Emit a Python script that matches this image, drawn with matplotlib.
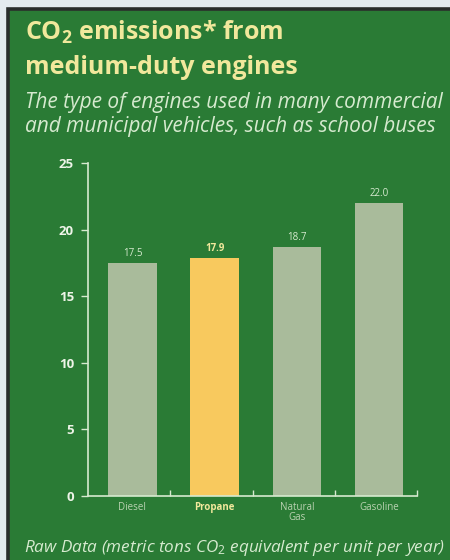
import matplotlib.pyplot as plt
from matplotlib.patches import Rectangle

plt.rcParams['font.family'] = ['Open Sans', 'DejaVu Sans']
plt.rcParams['mathtext.fontset'] = 'custom'
plt.rcParams['mathtext.rm'] = 'Open Sans'
plt.rcParams['mathtext.it'] = 'Open Sans:italic'
plt.rcParams['mathtext.bf'] = 'Open Sans:bold'

engines = ['Diesel', 'Propane', 'Natural\nGas', 'Gasoline']
emissions = [17.5, 17.9, 18.7, 22.0]
value_labels = ['17.5', '17.9', '18.7', '22.0']
y_ticks = [0, 5, 10, 15, 20, 25]

green = '#2a7b35'
grey_bar = '#a9bb9b'
propane_col = '#f8c95e'
title_col = '#f1e89c'
light_txt = '#d6eacf'

fig = plt.figure(figsize=(4.5, 5.6), dpi=100)
fig.patch.set_facecolor('#e4eaef')
# green panel with dark edge (cut off on the right and bottom)
fig.patches.append(Rectangle((8 / 450, -0.5), 2.0, 0.5 + 1 - 9 / 560,
                             transform=fig.transFigure, facecolor=green,
                             edgecolor='#2a2d2c', linewidth=2.6, zorder=-5))

ax = fig.add_axes([88 / 450, 1 - 496 / 560, 329 / 450, 333 / 560])
ax.set_facecolor('none')
ax.set_zorder(2)

cols = [grey_bar, propane_col, grey_bar, grey_bar]
x = range(len(engines))
bars = ax.bar([i + 0.04 for i in x], emissions, width=0.59, color=cols, zorder=2)

for i, (b, lab) in enumerate(zip(bars, value_labels)):
    ax.text(b.get_x() + b.get_width() / 2, b.get_height() + 0.3, lab,
            ha='center', va='bottom', fontsize=7,
            color=title_col if i == 1 else light_txt,
            fontweight='bold' if i == 1 else 'normal')

ax.set_xlim(-0.5, 3.5)
ax.set_ylim(0, 25)
ax.set_yticks(y_ticks)
ax.set_yticklabels([str(t) for t in y_ticks], fontsize=9.5, fontweight='bold',
                   color='#eef4e8')
ax.tick_params(axis='y', direction='out', length=5, width=1,
               color=light_txt, pad=5)

ax.set_xticks([0.5, 1.5, 2.5, 3.5])
ax.set_xticklabels([])
ax.tick_params(axis='x', direction='in', length=4, width=1, color=light_txt)
ax.set_xticks([i + 0.04 for i in x], minor=True)
ax.set_xticklabels(engines, minor=True, fontsize=7, color='#b9d2b1',
                   linespacing=0.95)
ax.tick_params(axis='x', which='minor', length=0, pad=4)
prop_lab = ax.get_xticklabels(minor=True)[1]
prop_lab.set_color(title_col)
prop_lab.set_fontweight('bold')

for s in ['top', 'right']:
    ax.spines[s].set_visible(False)
for s in ['left', 'bottom']:
    ax.spines[s].set_color(light_txt)
    ax.spines[s].set_linewidth(1.2)

fig.text(25 / 450, 1 - 40 / 560, r'CO$_\mathbf{2}$ emissions* from', fontsize=18,
         fontweight='bold', color=title_col, va='baseline')
fig.text(25 / 450, 1 - 74 / 560, 'medium-duty engines', fontsize=18,
         fontweight='bold', color=title_col, va='baseline')
fig.text(25 / 450, 1 - 108 / 560,
         'The type of engines used in many commercial', fontsize=15,
         style='italic', color=light_txt, va='baseline')
fig.text(25 / 450, 1 - 132 / 560,
         'and municipal vehicles, such as school buses', fontsize=15,
         style='italic', color=light_txt, va='baseline')
fig.text(24 / 450, 1 - 552 / 560,
         r'Raw Data (metric tons CO$_\mathit{2}$ equivalent per unit per year)',
         fontsize=12.3, style='italic', color=light_txt, va='baseline')

fig.savefig('out.png', dpi=100, facecolor=fig.get_facecolor())
